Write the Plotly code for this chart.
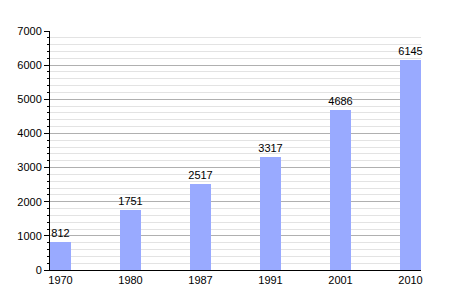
import plotly.graph_objects as go

years = ["1970", "1980", "1987", "1991", "2001", "2010"]
population = [812, 1751, 2517, 3317, 4686, 6145]

fig = go.Figure(go.Bar(
    x=list(range(len(years))), y=population,
    width=0.3,
    marker=dict(color="#99aaff", line=dict(width=0)),
    text=[str(v) for v in population], textposition="outside",
    constraintext="none",
    textfont=dict(family="Liberation Sans, Arial", size=11, color="#000"),
    cliponaxis=False,
))

fig.update_layout(
    width=450, height=300,
    margin=dict(l=50, r=29, t=31, b=30),
    paper_bgcolor="white", plot_bgcolor="white",
    font=dict(family="Liberation Sans, Arial", size=11, color="#000"),
    showlegend=False,
    bargap=0,
)
fig.update_xaxes(
    range=[-0.15, 5.15],
    tickmode="array", tickvals=list(range(len(years))), ticktext=years,
    showgrid=False, showline=True, linecolor="#000", linewidth=1,
    ticks="", zeroline=False,
)
fig.update_yaxes(
    range=[0, 7000], dtick=1000,
    showgrid=True, gridcolor="#b0b0b0", gridwidth=1,
    showline=True, linecolor="#000", linewidth=1,
    ticks="outside", ticklen=5, tickcolor="#000",
    zeroline=False,
    minor=dict(dtick=200, showgrid=True, gridcolor="#e3e3e3", gridwidth=1,
               ticks="outside", ticklen=2, tickcolor="#000"),
)

fig.write_html("out.html")
